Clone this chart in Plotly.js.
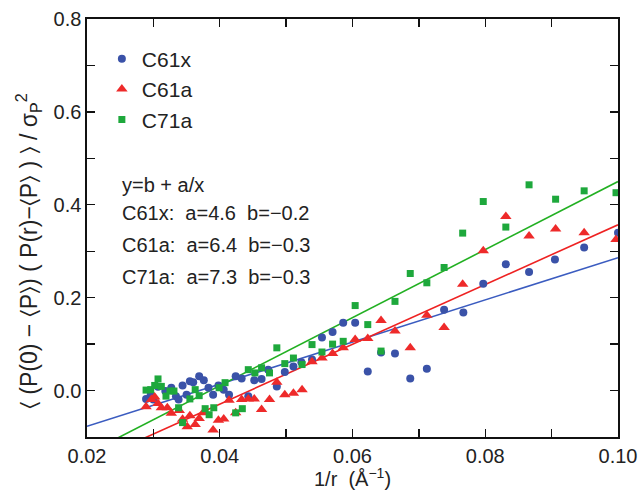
<!DOCTYPE html>
<html>
<head>
<meta charset="utf-8">
<script src="https://cdn.plot.ly/plotly-3.0.1.min.js"></script>
<style>html,body{margin:0;padding:0;background:#fff;}#chart{width:638px;height:490px;}</style>
</head>
<body>
<div id="chart"></div>
<script>
// ---- data ----
const c61xX = [0.0289,0.0296,0.0300,0.0307,0.0318,0.0327,0.0334,0.0338,0.0344,0.0350,0.0355,0.0360,0.0369,0.0376,0.0383,0.0390,0.0398,0.0406,0.0414,0.0424,0.0433,0.0443,0.0452,0.0463,0.0473,0.0486,0.0498,0.0511,0.0523,0.0539,0.0554,0.0570,0.0586,0.0604,0.0623,0.0643,0.0664,0.0687,0.0712,0.0738,0.0767,0.0797,0.0831,0.0866,0.0905,0.0949,0.1000];
const c61xY = [-0.018,-0.009,-0.019,0.008,-0.001,0.006,-0.012,-0.019,0.011,-0.009,0.020,0.018,0.031,0.022,0.006,-0.009,0.011,0.002,-0.009,0.031,0.026,-0.012,0.022,0.025,0.045,0.009,0.040,0.052,0.061,0.067,0.114,0.126,0.146,0.146,0.041,0.082,0.080,0.026,0.047,0.174,0.168,0.230,0.272,0.255,0.282,0.308,0.340];

const c61aX = [0.0289,0.0297,0.0302,0.0307,0.0312,0.0321,0.0327,0.0339,0.0344,0.0351,0.0355,0.0363,0.0369,0.0375,0.0390,0.0398,0.0406,0.0414,0.0424,0.0433,0.0443,0.0452,0.0463,0.0475,0.0486,0.0498,0.0511,0.0524,0.0539,0.0554,0.0570,0.0586,0.0604,0.0623,0.0643,0.0664,0.0687,0.0712,0.0738,0.0766,0.0797,0.0831,0.0866,0.0906,0.0949,0.0997];
const c61aY = [-0.035,-0.019,-0.014,-0.028,-0.037,-0.037,-0.049,-0.043,-0.062,-0.078,-0.054,-0.073,-0.060,-0.048,-0.085,-0.064,-0.061,-0.021,-0.048,-0.019,-0.018,-0.018,-0.041,-0.019,0.018,-0.009,-0.006,0.002,0.062,0.070,0.080,0.092,0.110,0.112,0.151,0.128,0.092,0.162,0.136,0.229,0.301,0.375,0.333,0.348,0.340,0.325];

const c71aX = [0.0289,0.0296,0.0302,0.0307,0.0312,0.0319,0.0325,0.0331,0.0338,0.0344,0.0355,0.0363,0.0369,0.0378,0.0384,0.0391,0.0399,0.0408,0.0424,0.0434,0.0443,0.0453,0.0463,0.0475,0.0486,0.0498,0.0511,0.0524,0.0539,0.0554,0.0570,0.0586,0.0604,0.0623,0.0643,0.0664,0.0687,0.0712,0.0738,0.0766,0.0797,0.0831,0.0866,0.0906,0.0949,0.0997];
const c71aY = [0.001,0.002,0.011,0.025,0.009,-0.012,-0.001,-0.001,-0.037,-0.069,-0.018,0.002,-0.011,-0.039,-0.052,-0.037,0.006,0.017,-0.048,-0.039,0.045,0.038,0.049,0.038,0.092,0.058,0.070,0.056,0.099,0.083,0.100,0.106,0.183,0.142,0.085,0.192,0.252,0.232,0.265,0.339,0.407,0.352,0.443,0.412,0.430,0.426];

// fitted lines (end points)
const fitX = [0.02, 0.10];
const fitC61xY = [-0.077, 0.286];
const fitC61aY = [-0.158, 0.357];
const fitC71aY = [-0.136, 0.450];

const xTickVals = [0.02,0.04,0.06,0.08,0.10];
const xTickText = ['0.02','0.04','0.06','0.08','0.10'];
const yTickVals = [0.0,0.2,0.4,0.6,0.8];
const yTickText = ['0.0','0.2','0.4','0.6','0.8'];

const NB = '\u00a0';
const fitLabels = ['y=b + a/x',
  'C61x:' + NB + NB + 'a=4.6' + NB + NB + 'b=\u22120.2',
  'C61a:' + NB + NB + 'a=6.4' + NB + NB + 'b=\u22120.3',
  'C71a:' + NB + NB + 'a=7.3' + NB + NB + 'b=\u22120.3'];
const fitLabelY = [0.603, 0.536, 0.459, 0.383];

const yTitle = '\u2329' + NB + '(P(0)' + NB + '\u2212' + NB + '\u2329P\u232A)' + NB + '(' + NB + 'P(r)\u2212\u2329P\u232A' + NB + ')' + NB + '\u232A' + NB + '/' + NB + '\u03C3<sub>P</sub><sup>2</sup>';

const BLUE = '#3a52a8', RED = '#ee2a2a', GREEN = '#1ea83c';
const BLUE_L = '#3b5cc0', RED_L = '#ee2222', GREEN_L = '#22b022';

const traces = [
  {x: fitX, y: fitC61xY, mode: 'lines', line: {color: BLUE_L, width: 1.6}, showlegend: false, hoverinfo: 'skip'},
  {x: fitX, y: fitC61aY, mode: 'lines', line: {color: RED_L, width: 1.6}, showlegend: false, hoverinfo: 'skip'},
  {x: fitX, y: fitC71aY, mode: 'lines', line: {color: GREEN_L, width: 1.6}, showlegend: false, hoverinfo: 'skip'},
  {x: c61xX, y: c61xY, name: 'C61x', mode: 'markers', legendgroup: 'a',
   marker: {symbol: 'circle', size: 8, color: BLUE}},
  {x: c61aX, y: c61aY, name: 'C61a', mode: 'markers', legendgroup: 'b',
   marker: {symbol: 'triangle-up', size: 10, color: RED}},
  {x: c71aX, y: c71aY, name: 'C71a', mode: 'markers', legendgroup: 'c',
   marker: {symbol: 'square', size: 7, color: GREEN}}
];

const FONT = 'Liberation Sans, Arial, sans-serif';
const annotations = fitLabels.map((t, i) => ({
  xref: 'paper', yref: 'paper', x: 0.062, y: fitLabelY[i],
  xanchor: 'left', yanchor: 'middle', showarrow: false, text: t,
  font: {family: FONT, size: 20, color: '#222'}
}));
annotations.push({
  xref: 'paper', yref: 'paper', x: -0.111, y: 0.445, xanchor: 'center', yanchor: 'middle',
  textangle: -90, showarrow: false, text: yTitle,
  font: {family: FONT, size: 23, color: '#222'}
});

const layout = {
  width: 638, height: 490,
  margin: {l: 87, r: 20, t: 19, b: 53, pad: 0},
  paper_bgcolor: '#fff', plot_bgcolor: '#fff',
  font: {family: FONT, color: '#222'},
  showlegend: true,
  legend: {x: 0.028, y: 0.953, xanchor: 'left', yanchor: 'top', bgcolor: 'rgba(0,0,0,0)',
           font: {family: FONT, size: 21, color: '#222'}, tracegroupgap: 0, itemwidth: 30},
  xaxis: {
    range: [0.02, 0.10], tickvals: xTickVals, ticktext: xTickText,
    ticks: 'inside', ticklen: 8, tickwidth: 1.4, tickcolor: '#111',
    minor: {tickvals: [0.03,0.05,0.07,0.09], ticks: 'inside', ticklen: 8, tickwidth: 1.4, tickcolor: '#111', showgrid: false},
    showline: true, linecolor: '#111', linewidth: 1.6, mirror: 'ticks',
    showgrid: false, zeroline: false,
    tickfont: {family: FONT, size: 20, color: '#222'},
    title: {text: '1/r' + NB + NB + '(Å<sup>\u22121</sup>)', font: {family: FONT, size: 20, color: '#222'}, standoff: 4},
    automargin: false
  },
  yaxis: {
    range: [-0.1, 0.8], tickvals: yTickVals, ticktext: yTickText,
    ticks: 'inside', ticklen: 8, tickwidth: 1.4, tickcolor: '#111',
    minor: {tickvals: [-0.1,0.1,0.3,0.5,0.7], ticks: 'inside', ticklen: 8, tickwidth: 1.4, tickcolor: '#111', showgrid: false},
    showline: true, linecolor: '#111', linewidth: 1.6, mirror: 'ticks',
    showgrid: false, zeroline: false,
    tickfont: {family: FONT, size: 20, color: '#222'},
    automargin: false
  },
  annotations: annotations
};

Plotly.newPlot('chart', traces, layout, {displayModeBar: false, staticPlot: true});
</script>
</body>
</html>
